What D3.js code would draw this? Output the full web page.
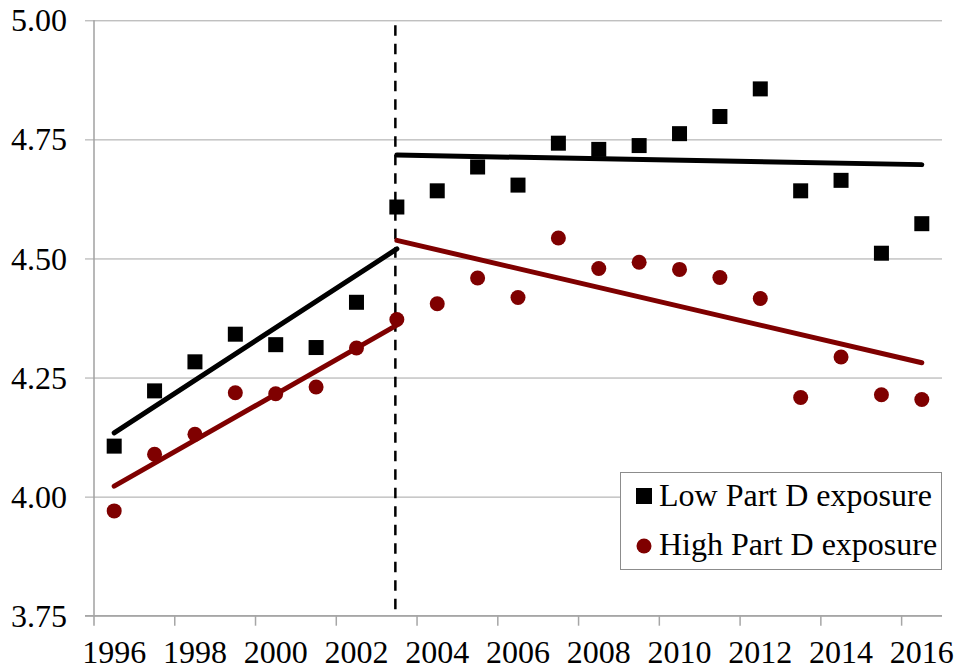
<!DOCTYPE html>
<html lang="en">
<head>
    <meta charset="UTF-8">
    <title>Part D exposure</title>
    <script src="https://d3js.org/d3.v7.min.js"></script>
</head>
<body style="margin:0; background:#fff">
    <script>
        // years on the category axis
        var years = d3.range(1996, 2017);
        var yTicks = [3.75, 4.00, 4.25, 4.50, 4.75, 5.00];

        // series values
        var lowExposure = [4.106, 4.222, 4.283, 4.341, 4.319, 4.313, 4.408, 4.608, 4.642, 4.692,
                           4.654, 4.742, 4.729, 4.737, 4.762, 4.798, 4.856, 4.642, 4.664, 4.511, 4.573];
        var highExposure = [3.970, 4.089, 4.131, 4.218, 4.216, 4.230, 4.312, 4.372, 4.405, 4.459,
                            4.418, 4.543, 4.479, 4.492, 4.477, 4.460, 4.416, 4.208, 4.293, 4.214, 4.204];

        // fitted trend segments [year, value]
        var lowTrendPre = [[1996, 4.134], [2003, 4.520]];
        var lowTrendPost = [[2003, 4.717], [2016, 4.697]];
        var highTrendPre = [[1996, 4.022], [2003, 4.360]];
        var highTrendPost = [[2003, 4.538], [2016, 4.281]];

        var breakYear = 2003;

        var w = 956, h = 671;
        var plotLeft = 94, plotRight = 942, plotTop = 20.3, plotBottom = 615.7;
        var serif = 'Liberation Serif';

        var svg = d3.select('body').append('svg')
                    .attr('width', w)
                    .attr('height', h)
                    .attr('font-family', serif);

        var xScale = d3.scaleBand()
                       .domain(years)
                       .range([plotLeft, plotRight])
                       .padding(0);

        var xc = function(yr) { return xScale(yr) + xScale.bandwidth() / 2; };

        var yScale = d3.scaleLinear()
                       .domain([3.75, 5.00])
                       .range([plotBottom, plotTop]);

        // gridlines + y labels
        var yAxis = d3.axisLeft(yScale)
                      .tickValues(yTicks)
                      .tickSize(-(plotRight - plotLeft))
                      .tickFormat(d3.format('.2f'));

        var gy = svg.append('g')
                    .attr('transform', 'translate(' + plotLeft + ',0)')
                    .call(yAxis);
        gy.attr('font-family', serif).attr('font-size', 32);
        gy.select('.domain').remove();
        gy.selectAll('.tick line')
          .attr('stroke', '#a6a6a6')
          .attr('x1', -9);
        gy.selectAll('.tick text')
          .attr('x', -27)
          .attr('dy', '0.33em')
          .attr('fill', '#000')
          .attr('font-family', serif)
          .attr('font-size', 32);

        // left axis line
        svg.append('line')
           .attr('x1', plotLeft).attr('x2', plotLeft)
           .attr('y1', plotTop).attr('y2', plotBottom + 10)
           .attr('stroke', '#a0a0a0')
           .attr('stroke-width', 1.5);

        // bottom axis: ticks every 2 categories on boundaries, labels on category centers
        svg.append('line')
           .attr('x1', plotLeft - 9).attr('x2', plotRight)
           .attr('y1', plotBottom).attr('y2', plotBottom)
           .attr('stroke', '#a6a6a6')
           .attr('stroke-width', 1.5);

        var labelYears = years.filter(function(d, i) { return i % 2 === 0; });

        svg.selectAll('.xtick')
           .data(labelYears.slice(1))
           .enter()
           .append('line')
           .attr('class', 'xtick')
           .attr('x1', function(d) { return xScale(d); })
           .attr('x2', function(d) { return xScale(d); })
           .attr('y1', plotBottom)
           .attr('y2', plotBottom + 10)
           .attr('stroke', '#a6a6a6')
           .attr('stroke-width', 1.5);

        svg.selectAll('.xlabel')
           .data(labelYears)
           .enter()
           .append('text')
           .attr('class', 'xlabel')
           .attr('x', function(d) { return xc(d); })
           .attr('y', plotBottom + 47)
           .attr('text-anchor', 'middle')
           .attr('font-family', serif)
           .attr('font-size', 32)
           .text(function(d) { return d; });

        // dashed break line
        svg.append('line')
           .attr('x1', xc(breakYear) - 1.5).attr('x2', xc(breakYear) - 1.5)
           .attr('y1', plotTop + 5).attr('y2', plotBottom)
           .attr('stroke', '#000')
           .attr('stroke-width', 2.5)
           .attr('stroke-dasharray', '10.5,8');

        // trend lines
        var line = d3.line()
                     .x(function(d) { return xc(d[0]); })
                     .y(function(d) { return yScale(d[1]); });

        var trends = [
            { pts: lowTrendPre, color: '#000' },
            { pts: lowTrendPost, color: '#000' },
            { pts: highTrendPre, color: '#7f0000' },
            { pts: highTrendPost, color: '#7f0000' }
        ];

        svg.selectAll('.trend')
           .data(trends)
           .enter()
           .append('path')
           .attr('class', 'trend')
           .attr('d', function(d) { return line(d.pts); })
           .attr('fill', 'none')
           .attr('stroke', function(d) { return d.color; })
           .attr('stroke-width', 5)
           .attr('stroke-linecap', 'round');

        // markers
        var sq = 15;
        svg.selectAll('.low')
           .data(lowExposure)
           .enter()
           .append('rect')
           .attr('class', 'low')
           .attr('x', function(d, i) { return xc(years[i]) - sq / 2; })
           .attr('y', function(d) { return yScale(d) - sq / 2; })
           .attr('width', sq)
           .attr('height', sq)
           .attr('fill', '#000');

        svg.selectAll('.high')
           .data(highExposure)
           .enter()
           .append('circle')
           .attr('class', 'high')
           .attr('cx', function(d, i) { return xc(years[i]); })
           .attr('cy', function(d) { return yScale(d); })
           .attr('r', 7.5)
           .attr('fill', '#7f0000');

        // legend
        var lg = svg.append('g');
        lg.append('rect')
          .attr('x', 620.5).attr('y', 472.5)
          .attr('width', 321).attr('height', 97)
          .attr('fill', '#fff')
          .attr('stroke', '#8c8c8c')
          .attr('stroke-width', 1);

        lg.append('rect')
          .attr('x', 636).attr('y', 488)
          .attr('width', 16).attr('height', 16)
          .attr('fill', '#000');
        lg.append('text')
          .attr('x', 659).attr('y', 506)
          .attr('font-family', serif)
          .attr('font-size', 32)
          .text('Low Part D exposure');

        lg.append('circle')
          .attr('cx', 644).attr('cy', 546)
          .attr('r', 7.5)
          .attr('fill', '#7f0000');
        lg.append('text')
          .attr('x', 659).attr('y', 555)
          .attr('font-family', serif)
          .attr('font-size', 32)
          .text('High Part D exposure');
    </script>
</body>
</html>
